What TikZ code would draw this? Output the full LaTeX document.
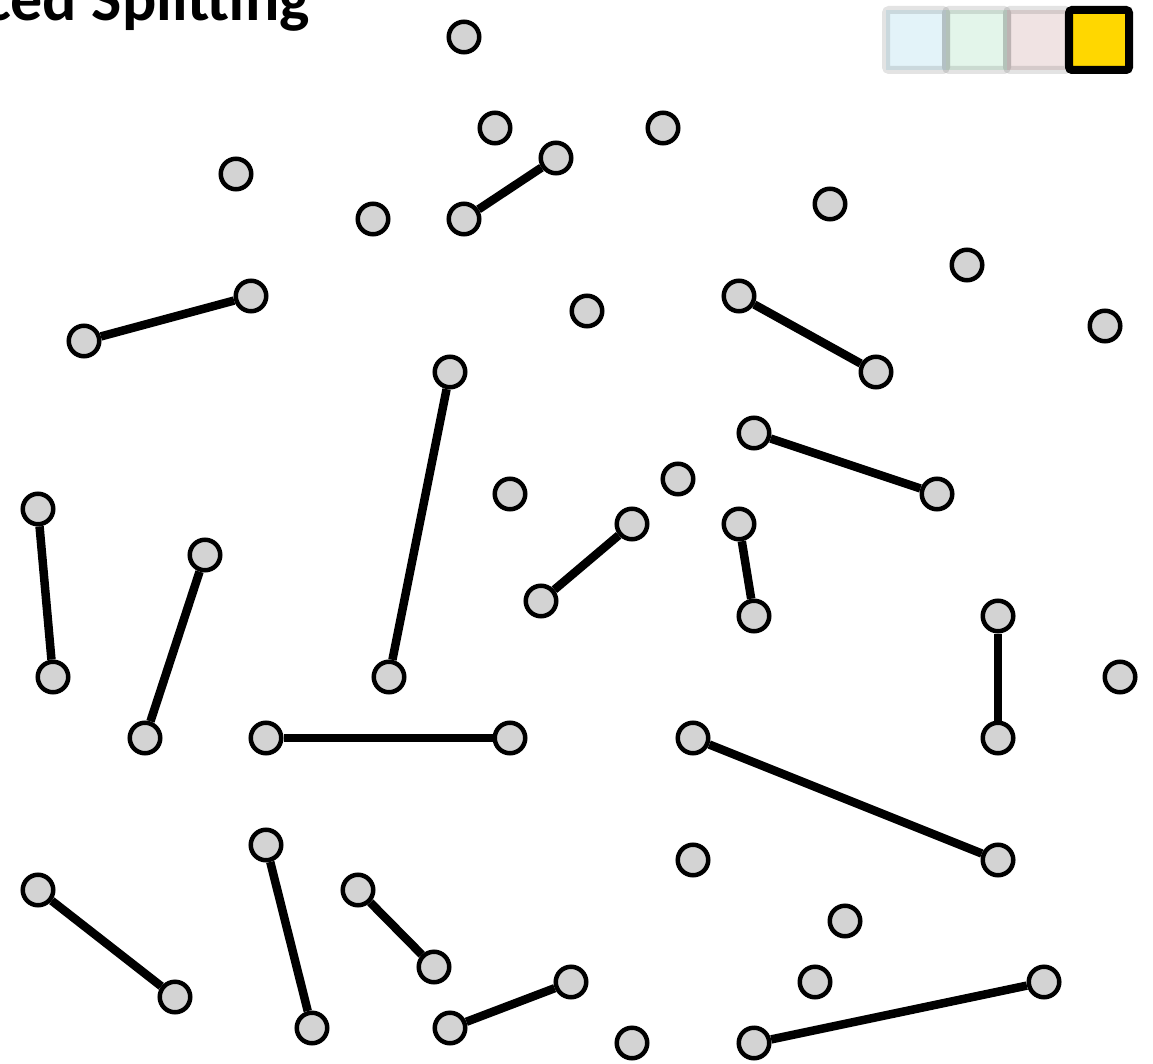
\documentclass[tikz,border=0pt]{standalone}
\usepackage{fontspec}
\setmainfont{Carlito}
\definecolor{nodegray}{HTML}{D3D3D3}
\definecolor{gold}{HTML}{FFD700}
\definecolor{paleblue}{HTML}{E3F3F9}
\definecolor{palegreen}{HTML}{E3F5EA}
\definecolor{palepink}{HTML}{F0E3E3}
\tikzset{
  pt/.style={circle, minimum size=30.5pt, inner sep=0pt, fill=nodegray, draw=black, line width=4.5pt},
  link/.style={line width=8.5pt, draw=black},
  fadedsq/.style={draw=black, draw opacity=0.11, line width=8pt, rounded corners=3pt},
  activesq/.style={draw=black, fill=gold, line width=8pt, rounded corners=3pt},
  titletext/.style={inner sep=0pt, font=\bfseries\fontsize{64}{64}\selectfont}
}
\begin{document}
\begin{tikzpicture}[x=1pt,y=-1pt]
\useasboundingbox (0,0) rectangle (1153,1064);
\fill[white] (0,0) rectangle (1153,1064);
\begin{scope}
\clip (0,0) rectangle (1153,1064);
\node[titletext, anchor=base east] (title) at (310,21) {ced Splitting};
\end{scope}
% legend
\fill[paleblue] (886,10) rectangle (946,70);
\fill[palegreen] (946,10) rectangle (1007,70);
\fill[palepink] (1007,10) rectangle (1068,70);
\draw[fadedsq] (886,10) rectangle (946,70);
\draw[fadedsq] (946,10) rectangle (1007,70);
\draw[fadedsq] (1007,10) rectangle (1068,70);
\draw[activesq] (1069,10) rectangle (1129,70);
% nodes
\node[pt] (n1) at (464,37) {};
\node[pt] (n2) at (495,128) {};
\node[pt] (n3) at (663,128) {};
\node[pt] (n4) at (556,158) {};
\node[pt] (n5) at (236,174) {};
\node[pt] (n6) at (373,219) {};
\node[pt] (n7) at (464,219) {};
\node[pt] (n8) at (830,204) {};
\node[pt] (n9) at (967,265) {};
\node[pt] (n10) at (251,296) {};
\node[pt] (n11) at (84,341) {};
\node[pt] (n12) at (587,311) {};
\node[pt] (n13) at (739,296) {};
\node[pt] (n14) at (876,372) {};
\node[pt] (n15) at (1105,326) {};
\node[pt] (n16) at (450,372) {};
\node[pt] (n17) at (754,433) {};
\node[pt] (n18) at (937,494) {};
\node[pt] (n19) at (510,494) {};
\node[pt] (n20) at (678,479) {};
\node[pt] (n21) at (632,524) {};
\node[pt] (n22) at (541,601) {};
\node[pt] (n23) at (739,524) {};
\node[pt] (n24) at (754,616) {};
\node[pt] (n25) at (38,509) {};
\node[pt] (n26) at (53,677) {};
\node[pt] (n27) at (205,555) {};
\node[pt] (n28) at (145,738) {};
\node[pt] (n29) at (389,677) {};
\node[pt] (n30) at (998,616) {};
\node[pt] (n31) at (998,738) {};
\node[pt] (n32) at (1120,677) {};
\node[pt] (n33) at (266,738) {};
\node[pt] (n34) at (510,738) {};
\node[pt] (n35) at (693,738) {};
\node[pt] (n36) at (998,860) {};
\node[pt] (n37) at (693,860) {};
\node[pt] (n38) at (266,845) {};
\node[pt] (n39) at (312,1028) {};
\node[pt] (n40) at (38,890) {};
\node[pt] (n41) at (175,997) {};
\node[pt] (n42) at (358,890) {};
\node[pt] (n43) at (434,967) {};
\node[pt] (n44) at (845,921) {};
\node[pt] (n45) at (815,982) {};
\node[pt] (n46) at (571,982) {};
\node[pt] (n47) at (450,1028) {};
\node[pt] (n48) at (632,1043) {};
\node[pt] (n49) at (754,1043) {};
\node[pt] (n50) at (1044,982) {};
% links
\draw[link] (n4) -- (n7);
\draw[link] (n10) -- (n11);
\draw[link] (n13) -- (n14);
\draw[link] (n16) -- (n29);
\draw[link] (n17) -- (n18);
\draw[link] (n21) -- (n22);
\draw[link] (n23) -- (n24);
\draw[link] (n25) -- (n26);
\draw[link] (n27) -- (n28);
\draw[link] (n30) -- (n31);
\draw[link] (n33) -- (n34);
\draw[link] (n35) -- (n36);
\draw[link] (n38) -- (n39);
\draw[link] (n40) -- (n41);
\draw[link] (n42) -- (n43);
\draw[link] (n46) -- (n47);
\draw[link] (n49) -- (n50);
\end{tikzpicture}
\end{document}
